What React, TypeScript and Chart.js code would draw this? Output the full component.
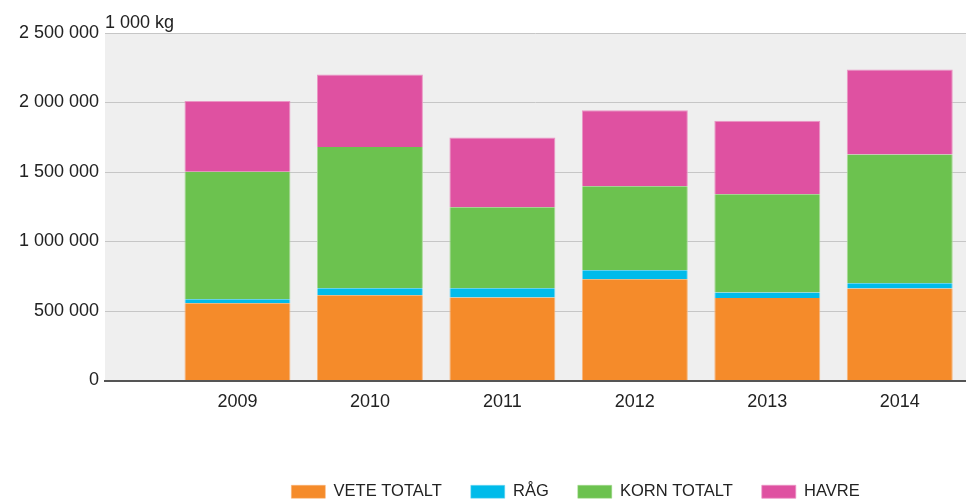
import React, { useEffect, useRef } from "react";
import { Chart, registerables } from "chart.js";

Chart.register(...registerables);

const years = [2009, 2010, 2011, 2012, 2013, 2014];
const veteTotalt = [556000, 614000, 597000, 729000, 594000, 662000];
const rag = [29000, 50000, 67000, 65000, 39000, 38000];
const kornTotalt = [916000, 1016000, 583000, 604000, 707000, 926000];
const havre = [510000, 521000, 501000, 547000, 528000, 611000];
const seriesNames = ["VETE TOTALT", "RÅG", "KORN TOTALT", "HAVRE"];
const yTicks = [0, 500000, 1000000, 1500000, 2000000, 2500000];
const unitLabel = "1 000 kg";

const fmt = (v: number) => String(v).replace(/\B(?=(\d{3})+(?!\d))/g, " ");

const plotBg = {
  id: "plotBg",
  beforeDraw(chart: any) {
    const { ctx, chartArea } = chart;
    ctx.save();
    ctx.fillStyle = "#efefef";
    ctx.fillRect(chartArea.left, chartArea.top, chartArea.right - chartArea.left, chartArea.bottom - chartArea.top);
    ctx.restore();
  },
};

// centre the legend under the bar region rather than the whole plot area
const legendShift = {
  id: "legendShift",
  afterLayout(chart: any) {
    const l = chart.legend;
    if (!l) return;
    const shift = 40;
    l.left += shift;
    l.right += shift;
  },
};

export default function App() {
  const ref = useRef<HTMLCanvasElement>(null);
  useEffect(() => {
    if (!ref.current) return;
    const mk = (vals: number[]) => vals.map((v, i) => ({ x: years[i], y: v }));
    const side = { left: 1, right: 1, top: 0, bottom: 0 };
    const chart = new Chart(ref.current, {
      type: "bar",
      data: {
        datasets: [
          { label: seriesNames[0], data: mk(veteTotalt), backgroundColor: "#f58b2a", borderColor: "#f8b57a", borderWidth: side },
          { label: seriesNames[1], data: mk(rag), backgroundColor: "#00bbea", borderColor: "#7fd8f0", borderWidth: side },
          { label: seriesNames[2], data: mk(kornTotalt), backgroundColor: "#6cc24f", borderColor: "#a8da95", borderWidth: side },
          { label: seriesNames[3], data: mk(havre), backgroundColor: "#df51a1", borderColor: "#eb95c5", borderWidth: { left: 1, right: 1, top: 1, bottom: 0 } },
        ] as any,
      },
      options: {
        animation: false,
        responsive: false,
        layout: { padding: { left: 0, right: 0, top: 0, bottom: -11 } },
        datasets: { bar: { barPercentage: 0.8, categoryPercentage: 1, borderSkipped: false } } as any,
        scales: {
          x: {
            type: "linear",
            stacked: true,
            offset: false,
            min: 2008,
            max: 2014.5,
            afterBuildTicks: (axis: any) => {
              axis.ticks = years.map((v) => ({ value: v }));
            },
            afterFit: (s: any) => {
              s.height = 74;
            },
            grid: { display: false, drawTicks: false },
            border: { display: true, color: "#555555", width: 2 },
            ticks: {
              padding: 11,
              color: "#222",
              autoSkip: false,
              maxRotation: 0,
              font: { family: "'Liberation Sans', Arial, sans-serif", size: 18 },
              callback: (v: any) => String(v),
            },
          },
          y: {
            stacked: true,
            min: 0,
            max: 2500000,
            afterBuildTicks: (axis: any) => {
              axis.ticks = yTicks.map((v) => ({ value: v }));
            },
            afterFit: (s: any) => {
              s.width = 105;
            },
            grid: { color: "#c6c6c6", lineWidth: 1, drawTicks: false },
            border: { display: false },
            ticks: {
              padding: 6,
              color: "#222",
              font: { family: "'Liberation Sans', Arial, sans-serif", size: 18 },
              callback: (v: any) => fmt(Number(v)),
            },
          },
        },
        plugins: {
          title: {
            display: true,
            text: unitLabel,
            align: "start",
            fullSize: false,
            color: "#222",
            font: { family: "'Liberation Sans', Arial, sans-serif", size: 18, weight: "normal" },
            padding: { top: 12, bottom: -0.6 },
          },
          legend: {
            position: "bottom",
            fullSize: false,
            labels: {
              boxWidth: 34,
              boxHeight: 13,
              padding: 29,
              color: "#222",
              font: { family: "'Liberation Sans', Arial, sans-serif", size: 16.5 },
            },
          },
          tooltip: { enabled: false },
        },
      } as any,
      plugins: [plotBg, legendShift],
    });
    return () => chart.destroy();
  }, []);
  return (
    <div style={{ position: "absolute", left: 0, top: 0, width: 966, height: 499 }}>
      <canvas ref={ref} width={966} height={499} />
    </div>
  );
}
